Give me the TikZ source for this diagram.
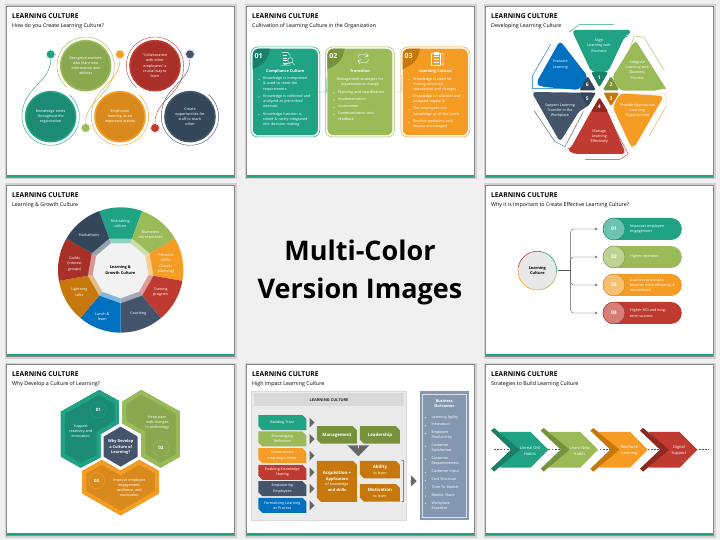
\documentclass[tikz,border=0pt]{standalone}
\usepackage{fontspec}
\setmainfont{Open Sans}
\usetikzlibrary{shapes.misc,shapes.arrows}
\definecolor{tealc}{HTML}{1FA384}
\definecolor{tealdk}{HTML}{1A7F68}
\definecolor{tealmd}{HTML}{1B8C73}
\definecolor{greenc}{HTML}{9BBB59}
\definecolor{greendk}{HTML}{76923C}
\definecolor{greenmd}{HTML}{8AA850}
\definecolor{orangec}{HTML}{F59C25}
\definecolor{orangedk}{HTML}{C7780C}
\definecolor{orangemd}{HTML}{D98A1C}
\definecolor{redc}{HTML}{BF3A30}
\definecolor{reddk}{HTML}{8F2820}
\definecolor{redmd}{HTML}{A93028}
\definecolor{navyc}{HTML}{34465A}
\definecolor{slatec}{HTML}{44546A}
\definecolor{bluec}{HTML}{0070C0}
\definecolor{panelc}{HTML}{8497B0}
\newcommand{\boxhead}{\fontsize{4.4}{6}\selectfont}
\newcommand{\boxsub}{\fontsize{3.7}{5.3}\selectfont\mdseries}
\tikzset{
  panel/.style={x=0.3333pt,y=-0.3333pt},
  txt/.style={font=\fontsize{3.7}{5.3}\selectfont,align=center,text=white,inner sep=0pt},
  boldtxt/.style={txt,font=\fontsize{3.9}{5.6}\selectfont\bfseries},
  bullettxt/.style={txt,align=left,anchor=north west,text width=52pt},
  ringball/.style={circle,inner sep=0pt,minimum size=50pt,line width=1.6pt,txt},
  smalldot/.style={circle,inner sep=0pt,minimum size=10pt,line width=.3pt,densely dotted},
  cardbox/.style={rectangle,rounded corners=6pt,minimum width=65pt,minimum height=86.5pt},
  snipbox/.style={chamfered rectangle,chamfered rectangle corners={north east,south west},
    chamfered rectangle xsep=2pt,chamfered rectangle ysep=2pt,inner sep=0pt,boldtxt},
  pillbox/.style={rectangle,rounded corners=11pt,minimum width=79pt,minimum height=22pt},
  badge/.style={circle,inner sep=0pt,minimum size=22pt,font=\fontsize{5}{6}\selectfont\bfseries,text=white},
  blockarrow/.style={single arrow,fill=black!60,inner sep=0pt,single arrow head extend=1.2pt},
}
\begin{document}
\begin{tikzpicture}[x=1pt,y=-1pt]
  \fill[black!6] (0,0) rectangle (720,540);
  \foreach \i/\xa/\ya/\ttl in {1/7/7/How do you Create Learning Culture?,2/247/7/Cultivation of Learning Culture in the Organization,3/486/7/Developing Learning Culture,4/7/186/Learning \& Growth Culture,5/486/186/Why it is Important to Create Effective Learning Culture?,6/7/365/Why Develop a Culture of Learning?,7/247/365/High Impact Learning Culture,8/486/365/Strategies to Build Learning Culture}{
    \fill[black!18] (\xa-2.5,\ya-2.5) rectangle (\xa+229.5,\ya+172.5);
    \fill[black!45] (\xa-1.2,\ya-1.2) rectangle (\xa+228.2,\ya+171.2);
    \fill[white] (\xa,\ya) rectangle (\xa+227,\ya+170);
    \fill[tealc] (\xa,\ya+168) rectangle (\xa+227,\ya+170);
    \node[anchor=west,inner sep=0pt,font=\fontsize{6.7}{7}\selectfont\bfseries] (title\i) at (\xa+5,\ya+9) {LEARNING CULTURE};
    \node[anchor=west,inner sep=0pt,font=\fontsize{5.3}{6}\selectfont] (sub\i) at (\xa+5,\ya+19) {\ttl};
  }
  \node[font=\fontsize{27}{38}\selectfont\bfseries,align=center,inner sep=0pt] (multi) at (360,272.5) {Multi-Color\\Version Images};

  \begin{scope}[panel]
    \foreach \i/\cx/\cy/\s/\col/\dk/\lab in {1/152/350/1/tealc/tealmd/{Knowledge exists\\throughout the\\organization},2/257/197/-1/greenc/greenmd/{Recognize workers\\who learn new\\information and\\abilities},3/360/350/1/orangec/orangemd/{Emphasize\\learning as an\\important activity},4/465/197/-1/redc/redmd/{``Collaboration\\with other\\employees'' a\\crucial way to\\learn},5/570/350/1/slatec/navyc/{Create\\opportunities for\\staff to teach\\other}}{
      \node[smalldot,draw=\col] (dot\i) at (\cx,\cy-\s*187) {};
      \fill[\col] (dot\i.center) circle (12);
      \draw[\col,line width=.4pt] (dot\i) .. controls (\cx,\cy-\s*100) and (\cx-\s*86,\cy-\s*90) .. (\cx-\s*86,\cy)
        -- plot[domain=180:-50,samples=40] ({\cx+\s*86*cos(\x)},{\cy+\s*86*sin(\x)});
      \node[ringball,fill=\dk,draw=\col] (ball\i) at (\cx,\cy) {\lab};
    }
  \end{scope}

  \begin{scope}[xshift=240pt,panel]
    \foreach \i/\xa/\col/\dk/\num/\head in {1/38/tealc/tealdk/01/Compliance Culture,2/262/greenc/greendk/02/Transition,3/488/orangec/orangedk/03/Learning Culture}{
      \node[cardbox,minimum width=69pt,minimum height=90pt,draw=\col,line width=.5pt,rounded corners=7pt] (rim\i) at (\xa+98,276) {};
      \node[cardbox,fill=\col] (card\i) at (\xa+98,276) {};
      \begin{scope}
        \clip[rounded corners=6pt] (\xa,146) rectangle (\xa+196,406);
        \fill[\dk] (\xa,146) -- (\xa+52,146) .. controls (\xa+46,175) and (\xa+40,190) .. (\xa,208) -- cycle;
      \end{scope}
      \node[font=\fontsize{7}{8}\selectfont\bfseries,text=white,inner sep=0pt] (num\i) at (\xa+18,167) {\num};
      \node[boldtxt] (head\i) at (\xa+98,214) {\head};
    }
    \draw[tealc,line width=.4pt] (card1.east) -- ++(25,0) -- (258,232);
    \draw[greenc,line width=.4pt] (card2.east) -- ++(25,0) -- (484,226);
    \begin{scope}[white,line width=.35pt]
      \draw (125,157) -- (142,157) -- (150,165) -- (150,172) (150,190) -- (150,196) -- (125,196) -- cycle;
      \draw (130,166) -- (142,166) (130,174) -- (140,174) (130,182) -- (140,182) (130,190) -- (144,190);
      \draw (151,181) circle (8) (157,187) -- (164,196);
      \draw (353,172) .. controls (355,158) and (370,162) .. (385,168) (378,158) -- (385,168) -- (373,172);
      \draw (386,178) .. controls (384,194) and (368,190) .. (353,182) (360,192) -- (353,182) -- (365,178);
      \draw (575,160) rectangle (601,196) (582,156) rectangle (594,162);
      \draw (581,170) -- (596,170) (581,178) -- (596,178) (581,186) -- (596,186);
      \draw (606,160) -- (606,190) -- (609,196) -- (612,190) -- (612,160) -- cycle;
    \end{scope}
    \foreach \j/\xa/\ya/\lab in {1/69/230/{Knowledge is interpreted\\\& used to meet the\\requirements},2/69/283/{Knowledge is collected and\\analyzed at prescribed\\intervals},3/69/336/{Knowledge function is\\siloed \& rarely integrated\\into decision making},4/294/271/{Planning and coordination},5/294/292/{Implementation},6/294/314/{Assessment},7/294/336/{Communication and\\feedback},8/519/231/{Knowledge is used for\\making informed\\operational and changes},9/519/284/{Knowledge is collected and\\analyzed regularly},10/519/321/{The employees use\\knowledge at all the levels},11/519/359/{Routine questions and\\inquiry encouraged}}{
      \node[bullettxt] (item\j) at (\xa,\ya) {\lab};
      \fill[white] (\xa-12,\ya+8) circle (1.6);
    }
    \node[txt] (mgmt) at (360,247) {Management strategies for\\organizational change};
  \end{scope}

  \begin{scope}[xshift=480pt,panel]
    \fill[tealc,rounded corners=4pt] (275,90) -- (456,90) -- (444,108) -- (435,108) -- (384,216) -- (334,216) -- cycle;
    \fill[greenc,rounded corners=4pt] (466,120) -- (562,272) -- (546,262) -- (536,272) -- (420,272) -- (396,232) -- cycle;
    \fill[orangec,rounded corners=4pt] (420,280) -- (552,288) -- (462,444) -- (452,438) -- (398,322) -- cycle;
    \fill[redc,rounded corners=4pt] (358,298) -- (384,336) -- (438,462) -- (280,462) -- (260,448) -- (272,445) -- (332,336) -- cycle;
    \fill[slatec,rounded corners=4pt] (155,276) -- (298,278) -- (346,278) -- (322,322) -- (300,330) -- (240,426) -- (166,296) -- cycle;
    \fill[bluec,rounded corners=4pt] (240,122) -- (324,230) -- (298,270) -- (182,260) -- (168,250) -- cycle;
    \foreach \pts/\dk/\n/\tx/\ty in {{(333,216) -- (385,216) -- (358,262)}/tealdk/1/358/233,{(393,228) -- (368,271) -- (418,271)}/greendk/2/393/254,{(370,278) -- (418,278) -- (393,319)}/orangedk/3/393/295,{(358,292) -- (385,336) -- (333,336)}/reddk/4/358/320,{(298,278) -- (348,278) -- (323,321)}/navyc/5/322/295,{(323,228) -- (298,271) -- (348,271)}/navyc/6/322/254}{
      \fill[\dk,rounded corners=2pt] \pts -- cycle;
      \node[boldtxt,font=\fontsize{5}{6}\selectfont\bfseries] (step\n) at (\tx,\ty) {\n};
    }
    \begin{scope}[line width=.4pt]
      \draw[tealc] (268,96) -- (300,73) -- (402,73);
      \draw[greenc] (420,240) -- (462,108) -- (492,112) -- (553,212);
      \draw[orangec] (435,282) -- (558,282) -- (558,320) -- (507,408);
      \draw[redc] (385,350) -- (445,462) -- (420,478) -- (315,478);
      \draw[slatec] (163,333) -- (225,425) -- (255,440) -- (310,335);
      \draw[bluec] (212,133) -- (157,228) -- (157,265) -- (280,265);
    \end{scope}
    \foreach \n/\tx/\ty/\lab in {1/357/136/{Align\\Learning with\\Business},2/472/210/{Integrate\\Learning with\\Business\\Process},3/473/332/{Provide Appropriate\\Learning\\Opportunities},4/358/410/{Manage\\Learning\\Effectively},5/240/332/{Support Learning\\Transfer in the\\Workplace},6/241/194/{Evaluate\\Learning}}{
      \node[txt] (lab\n) at (\tx,\ty) {\lab};
    }
  \end{scope}

  \begin{scope}[yshift=-180pt,panel]
    \foreach \i/\a/\col/\tx/\ty/\lab in {1/-110/tealc/361/130/{Risk-taking\\culture},2/-70/greenc/452/165/{Blameless\\retrospectives},3/-30/orangec/498/251/{Personal\\OKRs\\(Career\\planning)},4/10/redc/482/336/{Training\\program},5/50/slatec/415/402/{Coaching},6/90/bluec/307/410/{Lunch \&\\learn},7/130/orangedk/238/336/{Lightning\\talks},8/170/redmd/224/252/{Guilds\\(interest\\groups)},9/210/navyc/267/164/{Hackathons}}{
      \pgfmathsetmacro{\b}{\a+40}
      \fill[\col] (362,270) -- plot[domain=\a:\b,samples=14] ({362+188*cos(\x)},{270+188*sin(\x)}) -- cycle;
      \node[txt] (wedge\i) at (\tx,\ty) {\lab};
    }
    \fill[white,opacity=.5] plot[domain=-110:210,samples=9] ({362+100*cos(\x)},{270+100*sin(\x)}) -- cycle;
    \fill[black!5] plot[domain=-110:210,samples=9] ({362+85*cos(\x)},{270+85*sin(\x)}) -- cycle;
    \node[boldtxt,text=black] (hubtext) at (361,270) {Learning \&\\Growth Culture};
  \end{scope}

  \begin{scope}[xshift=480pt,yshift=-180pt,panel]
    \node[circle,fill=black!9,inner sep=0pt,minimum size=38pt,boldtxt,text=black] (culture) at (172,272) {Learning\\Culture};
    \draw[redc,line width=.6pt] plot[domain=-170:-75,samples=15] ({172+58*cos(\x)},{272+58*sin(\x)});
    \draw[tealc,line width=.6pt] plot[domain=-75:5,samples=15] ({172+58*cos(\x)},{272+58*sin(\x)});
    \draw[greenc,line width=.6pt] plot[domain=5:80,samples=15] ({172+58*cos(\x)},{272+58*sin(\x)});
    \draw[orangec,line width=.6pt] plot[domain=80:190,samples=15] ({172+58*cos(\x)},{272+58*sin(\x)});
    \coordinate (hub) at (272,272);
    \foreach \i/\py/\col/\lab in {1/147/tealc/{Improves employee\\engagement},2/231/greenc/{Higher retention},3/315/orangec/{Business processes\\become more efficiency \&\\streamlined},4/399/redc/{Higher ROI and long-\\term success}}{
      \node[pillbox,fill=\col] (pill\i) at (487,\py) {};
      \node[badge,fill=white!35!\col,draw=\col!80!black,line width=.4pt] (badge\i) at (402,\py) {0\i};
      \node[txt,align=left,anchor=west] (pilltext\i) at (450,\py) {\lab};
      \draw[black!65,line width=.35pt,rounded corners=3pt,->,>=stealth] (hub) |- ([xshift=-5pt]pill\i.west);
    }
    \draw[black!65,line width=.35pt] (culture.east) ++(3,0) -- (hub);
  \end{scope}

  \begin{scope}[yshift=-360pt,panel]
    \foreach \pts/\lt/\dk in {{(298,90) -- (357,123) -- (357,190) -- (302,222) -- (302,292) -- (242,323) -- (183,290) -- (183,155)}/tealc/tealmd,{(424,90) -- (540,155) -- (540,290) -- (482,323) -- (424,290) -- (424,222) -- (367,190) -- (367,125)}/greenc/greenmd,{(305,300) -- (362,332) -- (418,300) -- (477,333) -- (477,400) -- (362,466) -- (247,400) -- (247,333)}/orangec/orangemd}{
      \fill[\lt] \pts -- cycle;
      \begin{scope}
        \clip \pts -- cycle;
        \draw[fill=\dk,draw=\lt,line width=8pt] \pts -- cycle;
      \end{scope}
    }
    \fill[slatec] (362,200) -- (413,230) -- (413,290) -- (362,320) -- (311,290) -- (311,230) -- cycle;
    \node[boldtxt] (why) at (362,262) {Why Develop\\a Culture of\\Learning?};
    \foreach \i/\bx/\by/\col/\dk/\tx/\ty/\lab in {1/295/150/tealc/tealmd/242/213/{Support\\creativity and\\innovation},2/483/265/greenc/greenmd/472/188/{Keep pace\\with changes\\in technology},3/290/362/orangec/orangemd/388/383/{Improve employee\\engagement,\\resilience, and\\motivation}}{
      \node[badge,minimum size=16pt,font=\fontsize{4.5}{5}\selectfont\bfseries,fill=\dk,draw=\col,line width=.5pt] (hexnum\i) at (\bx,\by) {0\i};
      \node[txt] (hextext\i) at (\tx,\ty) {\lab};
    }
  \end{scope}

  \begin{scope}[xshift=240pt,yshift=-360pt,panel]
    \node[rectangle,draw=black!15,fill=black!8,minimum width=155pt,minimum height=129pt,line width=.6pt] (frame) at (267,286) {};
    \node[rectangle,fill=black!15,minimum width=150pt,minimum height=13pt,boldtxt,text=black!85] (bar) at (267,120) {LEARNING CULTURE};
    \foreach \i/\by/\col/\lab in {1/188/tealc/{Building Trust},2/237/greenc/{Encouraging\\Reflection},3/287/orangec/{Demonstrate\\Learning's Value},4/337/redc/{Enabling Knowledge\\Sharing},5/386/slatec/{Empowering\\Employees},6/436/bluec/{Formalizing Learning\\as Process}}{
      \node[snipbox,txt,fill=\col,minimum width=48pt,minimum height=15pt] (left\i) at (127,\by) {\lab};
      \node[blockarrow,minimum width=10pt,minimum height=5pt] (gap\i) at (215,\by) {};
    }
    \node[snipbox,fill=greendk,minimum width=40pt,minimum height=17.5pt,font=\fontsize{4.4}{6}\selectfont\bfseries] (manage) at (291,225) {Management};
    \node[snipbox,fill=greendk,minimum width=40pt,minimum height=17.5pt,font=\fontsize{4.4}{6}\selectfont\bfseries] (lead) at (420,225) {Leadership};
    \node[blockarrow,rotate=-90,minimum width=22pt,minimum height=8pt,single arrow head extend=4pt] (down) at (355,276) {};
    \node[snipbox,fill=orangedk,minimum width=40pt,minimum height=41pt] (acq) at (291,364) {\boxhead Acquisition +\\Application\\\boxsub of knowledge\\and skills};
    \node[snipbox,fill=orangedk,minimum width=40pt,minimum height=17.5pt] (ability) at (420,329) {\boxhead Ability\\\boxsub to learn};
    \node[snipbox,fill=orangedk,minimum width=40pt,minimum height=17.5pt] (motive) at (420,399) {\boxhead Motivation\\\boxsub to learn};
    \draw[black!70,line width=.4pt] (484,300) -- (491,302) -- (491,424) -- (484,426);
    \node[blockarrow,minimum width=11pt,minimum height=6pt] (toright) at (520,363) {};
    \node[rectangle,fill=panelc,minimum width=49.5pt,minimum height=129pt] (outcome) at (614,286) {};
    \node[rectangle,draw=white!70!panelc,line width=.4pt,minimum width=44pt,minimum height=123pt] (outrim) at (614,286) {};
    \node[boldtxt] (outhead) at (613,131) {Business\\Outcomes};
    \foreach \j/\ya/\lab in {1/165/{Learning Agility},2/189/{Innovation},3/212/{Employee\\Productivity},4/251/{Customer\\Satisfaction},5/290/{Customer\\Responsiveness},6/330/{Customer Input},7/353/{Cost Structure},8/376/{Time To Market},9/400/{Market Share},10/423/{Workplace\\Expertise}}{
      \node[bullettxt,text width=32pt] (goal\j) at (574,\ya) {\lab};
      \fill[white] (556,\ya+8) circle (1.6);
    }
  \end{scope}

  \begin{scope}[xshift=480pt,yshift=-360pt,panel]
    \coordinate (lineleft) at (42,269);
    \coordinate (lineright) at (688,269);
    \draw[black!65,line width=1pt,dash pattern=on 1.8pt off 1.4pt] (lineleft) -- (lineright);
    \foreach \i/\col/\dk/\lab in {0/tealc/tealdk/{Unreal Old\\Habits},1/greenc/greendk/{Learn New\\Habits},2/orangec/orangedk/{Reinforce\\Learning},3/redc/reddk/{Digital\\Support}}{
      \begin{scope}[xshift=\i*49.67pt]
        \fill[\col] (58,216) -- (152,216) -- (205,269) -- (152,323) -- (58,323) -- (110,269) -- cycle;
        \fill[\dk] (33,212) -- (42,204) -- (120,269) -- (42,335) -- (33,326) -- (93,269) -- cycle;
        \node[txt,font=\fontsize{4}{6}\selectfont] (chev\i) at (150,272) {\lab};
      \end{scope}
    }
  \end{scope}
\end{tikzpicture}
\end{document}
